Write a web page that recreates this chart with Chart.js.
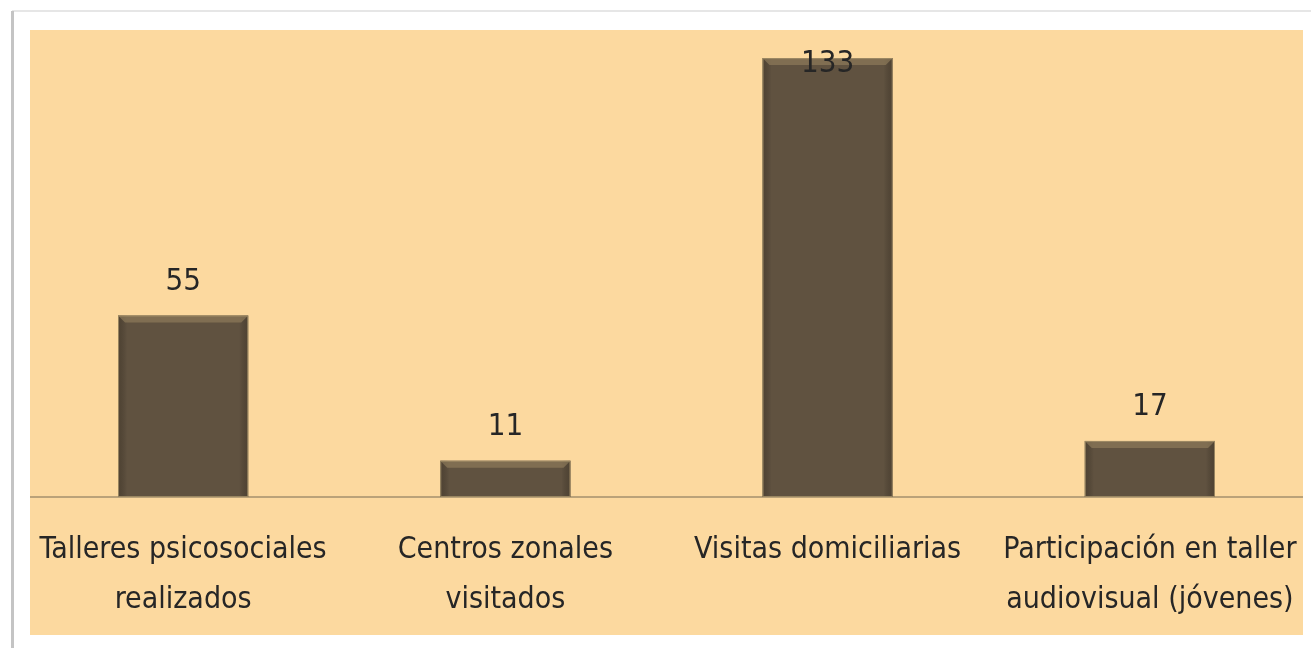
<!DOCTYPE html>
<html>
<head>
<meta charset="utf-8">
<script src="https://cdn.jsdelivr.net/npm/chart.js@4/dist/chart.umd.min.js"></script>
<style>
  html, body { margin: 0; padding: 0; background: #ffffff; }
  #wrap { width: 1311px; height: 648px; position: relative; }
</style>
</head>
<body>
<div id="wrap"><canvas id="chart"></canvas></div>
<script>
// Chart data
const categories = [
  ['Talleres psicosociales', 'realizados'],
  ['Centros zonales', 'visitados'],
  'Visitas domiciliarias',
  ['Participación en taller', 'audiovisual (jóvenes)']
];
const values = [55, 11, 133, 17];

const FONT = "'Liberation Sans Narrow', 'DejaVu Sans Condensed', 'Liberation Sans', sans-serif";
const PEACH = '#fcd99f';
const BAR = '#605240';

// white frame + peach panel behind the chart
const framePlugin = {
  id: 'frame',
  beforeDraw(chart) {
    const ctx = chart.ctx;
    ctx.save();
    ctx.fillStyle = '#ffffff';
    ctx.fillRect(0, 0, chart.width, chart.height);
    // frame border / shadow
    ctx.fillStyle = '#e6e6e6';
    ctx.fillRect(12, 10, chart.width - 12, 2);
    ctx.fillStyle = '#c4c4c4';
    ctx.fillRect(11, 11, 3, chart.height - 11);
    ctx.fillStyle = PEACH;
    ctx.fillRect(30, 30, 1273, 605);
    ctx.restore();
  },
  beforeDatasetsDraw(chart) {
    // baseline inside the panel
    const ctx = chart.ctx;
    const y0 = chart.scales.y.getPixelForValue(0);
    ctx.save();
    ctx.strokeStyle = '#a48f6c';
    ctx.lineWidth = 1.5;
    ctx.beginPath();
    ctx.moveTo(30, y0);
    ctx.lineTo(1303, y0);
    ctx.stroke();
    ctx.restore();
  }
};

// bevel on the bars and value labels
const barLabelPlugin = {
  id: 'barLabels',
  afterDatasetsDraw(chart) {
    const ctx = chart.ctx;
    const meta = chart.getDatasetMeta(0);
    ctx.save();
    meta.data.forEach((bar, i) => {
      const left = bar.x - bar.width / 2;
      const right = bar.x + bar.width / 2;
      const top = bar.y;
      const bottom = bar.base;
      const b = 7;
      // side shading
      let g = ctx.createLinearGradient(left, 0, right, 0);
      g.addColorStop(0, 'rgba(40,32,22,0.3)');
      g.addColorStop(0.07, 'rgba(0,0,0,0)');
      g.addColorStop(0.93, 'rgba(0,0,0,0)');
      g.addColorStop(1, 'rgba(40,32,22,0.3)');
      ctx.fillStyle = g;
      ctx.fillRect(left, top, right - left, bottom - top);
      // top bevel
      ctx.fillStyle = 'rgba(150,130,95,0.6)';
      ctx.beginPath();
      ctx.moveTo(left, top);
      ctx.lineTo(right, top);
      ctx.lineTo(right - b, top + b);
      ctx.lineTo(left + b, top + b);
      ctx.closePath();
      ctx.fill();
      ctx.strokeStyle = 'rgba(165,145,105,0.85)';
      ctx.lineWidth = 1;
      ctx.strokeRect(left + 0.5, top + 0.5, right - left - 1, bottom - top - 1);

      // value label, kept inside the panel
      const ly = Math.max(top - 34, chart.chartArea.top + 29);
      ctx.fillStyle = '#262626';
      ctx.font = '31px ' + FONT;
      ctx.textAlign = 'center';
      ctx.textBaseline = 'middle';
      ctx.fillText(String(values[i]), bar.x, ly);
    });
    ctx.restore();
  }
};

new Chart(document.getElementById('chart'), {
  type: 'bar',
  data: {
    labels: categories,
    datasets: [{
      data: values,
      backgroundColor: BAR,
      borderWidth: 0,
      categoryPercentage: 1,
      barPercentage: 0.404
    }]
  },
  options: {
    responsive: true,
    maintainAspectRatio: false,
    animation: false,
    layout: { padding: { left: 22, right: 0, top: 35, bottom: 0 } },
    plugins: {
      legend: { display: false },
      tooltip: { enabled: false }
    },
    scales: {
      x: {
        grid: { display: false, drawTicks: false },
        border: { display: false },
        ticks: {
          color: '#262626',
          font: { family: FONT, size: 30, lineHeight: 1.67 },
          padding: 28,
          maxRotation: 0,
          autoSkip: false
        },
        afterFit(axis) {
          axis.height = 151;
          axis.paddingLeft = 0;
          axis.paddingRight = 0;
        }
      },
      y: {
        display: false,
        min: 0,
        max: 140
      }
    }
  },
  plugins: [framePlugin, barLabelPlugin]
});
</script>
</body>
</html>
